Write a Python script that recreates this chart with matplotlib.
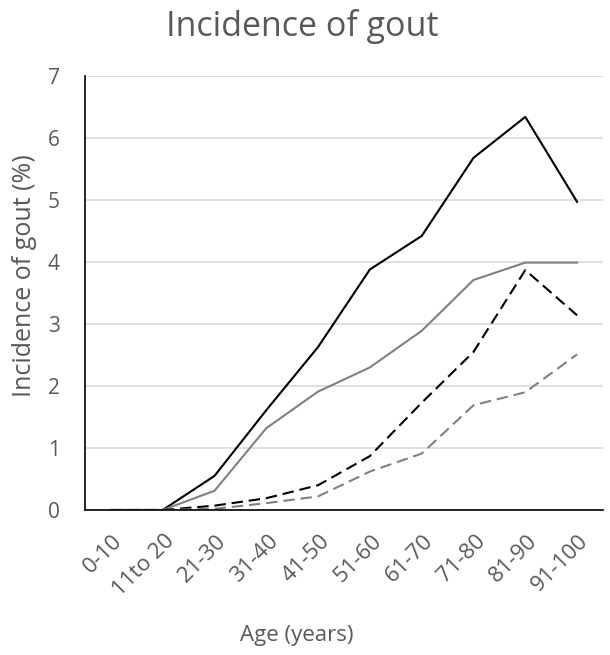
import numpy as np
import matplotlib
matplotlib.use('Agg')
import matplotlib.pyplot as plt
from matplotlib.transforms import ScaledTranslation

plt.rcParams['font.family'] = ['Open Sans', 'DejaVu Sans']

ages = ['0-10', '11to 20', '21-30', '31-40', '41-50', '51-60', '61-70', '71-80', '81-90', '91-100']
black_solid = [0, 0, 0.55, 1.61, 2.63, 3.88, 4.42, 5.68, 6.34, 4.97]
gray_solid = [0, 0, 0.31, 1.32, 1.91, 2.30, 2.89, 3.71, 3.99, 3.99]
black_dash = [0, 0, 0.07, 0.19, 0.40, 0.87, 1.73, 2.55, 3.87, 3.14]
gray_dash = [0, 0, 0.02, 0.11, 0.22, 0.62, 0.91, 1.69, 1.90, 2.51]

TXT = '#595959'
W, H = 610, 655

fig = plt.figure(figsize=(W / 100, H / 100), dpi=100)
# axes box in pixels: left 85, right 603, top 76, bottom 510
ax = fig.add_axes([85 / W, 1 - 510 / H, 518 / W, 434 / H])

x = np.arange(len(ages))
ax.plot(x, black_solid, color='black', lw=1.5)
ax.plot(x, gray_solid, color='#808080', lw=1.5)
ax.plot(x, black_dash, color='black', lw=1.5, dashes=(5.5, 2.8))
ax.plot(x, gray_dash, color='#808080', lw=1.5, dashes=(5.5, 2.8))

ax.set_xlim(-0.5, len(ages) - 0.5)
ax.set_ylim(0, 7)
ax.set_yticks(range(8))
ax.yaxis.grid(True, color='#D9D9D9', lw=1.2)
ax.set_axisbelow(True)
ax.set_xticks(x)
ax.set_xticklabels(ages, rotation=45, ha='right', va='top', rotation_mode='anchor')
ax.tick_params(axis='y', length=0, labelsize=15, colors=TXT, pad=18)
ax.tick_params(axis='x', length=0, labelsize=16, colors=TXT, pad=15)
shift = ScaledTranslation(1 / 100, 0, fig.dpi_scale_trans)
for lbl in ax.get_xticklabels():
    lbl.set_transform(lbl.get_transform() + shift)

for s in ['top', 'right']:
    ax.spines[s].set_visible(False)
for s in ['left', 'bottom']:
    ax.spines[s].set_color('black')
    ax.spines[s].set_linewidth(1.2)

fig.text(25 / W, 1 - 276 / H, 'Incidence of gout (%)', fontsize=18, color=TXT,
         rotation=90, ha='center', va='center')
fig.text(297 / W, 1 - 636 / H, 'Age (years)', fontsize=16, color=TXT,
         ha='center', va='center')
fig.text(302 / W, 1 - 26 / H, 'Incidence of gout', fontsize=24.5, color=TXT,
         ha='center', va='center')

fig.savefig('out.png', dpi=100)
